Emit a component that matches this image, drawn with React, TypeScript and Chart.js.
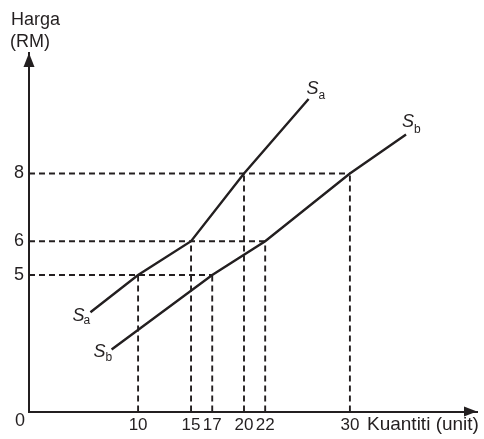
import React, { useEffect, useRef } from "react";
import { Chart, registerables } from "chart.js";

Chart.register(...registerables);

// ---- data ----
const saX = [5.5, 10, 15, 20, 26.1];
const saY = [3.9, 5, 6, 8, 10.2];
const sbX = [7.5, 17, 22, 30, 35.3];
const sbY = [2.8, 5, 6, 8, 9.15];
const guideX = [10, 15, 17, 20, 22, 30];
const guideY = [5, 6, 5, 8, 6, 8];
const xTicks = [10, 15, 17, 20, 22, 30];
const yTicks = [5, 6, 8];
const yTitle = ["Harga", "(RM)"];
const xTitle = "Kuantiti (unit)";
const originLabel = "0";

const X_MIN = -0.3;
const X_MAX = 42;
const Y_MIN = 0.968;
const Y_MAX = 11.56;

const INK = "#231f20";
const FONT = "'Liberation Sans', Arial, sans-serif";

export default function App() {
  const ref = useRef<HTMLCanvasElement | null>(null);

  useEffect(() => {
    document.body.style.margin = "0";
    const canvas = ref.current;
    if (!canvas) return;

    const solid = (xs: number[], ys: number[]) => ({
      data: xs.map((x, i) => ({ x, y: ys[i] })),
      showLine: true,
      borderColor: INK,
      borderWidth: 2.4,
      pointRadius: 0,
      fill: false,
    });

    const dashed = (pts: { x: number; y: number }[]) => ({
      data: pts,
      showLine: true,
      borderColor: INK,
      borderWidth: 1.9,
      borderDash: [6, 4],
      pointRadius: 0,
      fill: false,
    });

    // horizontal guides: one per price level, out to the furthest quantity
    const levels: Record<string, number> = {};
    guideY.forEach((y, i) => {
      const k = String(y);
      levels[k] = Math.max(levels[k] ?? -Infinity, guideX[i]);
    });
    const hGuides = Object.keys(levels).map((k) =>
      dashed([
        { x: X_MIN, y: Number(k) },
        { x: levels[k], y: Number(k) },
      ])
    );
    const vGuides = guideX.map((x, i) =>
      dashed([
        { x, y: Y_MIN },
        { x, y: guideY[i] },
      ])
    );

    const decor = {
      id: "decor",
      afterDraw(chart: any) {
        const { ctx, chartArea, scales } = chart;
        const xs = scales.x;
        const ys = scales.y;
        ctx.save();
        ctx.fillStyle = INK;
        ctx.strokeStyle = INK;
        // arrows
        const left = chartArea.left;
        const bottom = chartArea.bottom;
        ctx.beginPath();
        ctx.moveTo(left, chartArea.top);
        ctx.lineTo(left - 5.5, chartArea.top + 14);
        ctx.lineTo(left + 5.5, chartArea.top + 14);
        ctx.closePath();
        ctx.fill();
        ctx.beginPath();
        ctx.moveTo(chartArea.right, bottom);
        ctx.lineTo(chartArea.right - 13, bottom - 5);
        ctx.lineTo(chartArea.right - 13, bottom + 5);
        ctx.closePath();
        ctx.fill();

        // titles
        ctx.font = `18px ${FONT}`;
        ctx.textAlign = "left";
        ctx.textBaseline = "alphabetic";
        ctx.fillText(yTitle[0], 11, 25);
        ctx.fillText(yTitle[1], 10, 47);
        ctx.fillText(originLabel, 15, 426);
        ctx.font = `19px ${FONT}`;
        ctx.fillText(xTitle, 367, 430);

        // curve labels
        const lab = (sub: string, px: number, py: number, dx: number, dy: number, sdx: number, sdy: number) => {
          ctx.font = `italic 18px ${FONT}`;
          ctx.fillText("S", px + dx, py + dy);
          ctx.font = `12px ${FONT}`;
          ctx.fillText(sub, px + sdx, py + sdy);
        };
        const p = (xv: number, yv: number) => [xs.getPixelForValue(xv), ys.getPixelForValue(yv)];
        let [a, b] = p(saX[saX.length - 1], saY[saY.length - 1]);
        lab("a", a, b, -2, -5, 10, 0);
        [a, b] = p(sbX[sbX.length - 1], sbY[sbY.length - 1]);
        lab("b", a, b, -4, -8, 8, -2);
        [a, b] = p(saX[0], saY[0]);
        lab("a", a, b, -18, 9, -7, 12);
        [a, b] = p(sbX[0], sbY[0]);
        lab("b", a, b, -18, 8, -6, 12);
        ctx.restore();
      },
    };

    const chart = new Chart(canvas, {
      type: "scatter",
      data: {
        datasets: [solid(saX, saY), solid(sbX, sbY), ...hGuides, ...vGuides] as any,
      },
      options: {
        animation: false,
        responsive: false,
        events: [],
        layout: { padding: { top: 53, right: 7, left: 0, bottom: 0 } },
        plugins: {
          legend: { display: false },
          tooltip: { enabled: false },
        },
        scales: {
          x: {
            type: "linear",
            min: X_MIN,
            max: X_MAX,
            grid: { display: false, drawTicks: false },
            border: { display: true, color: INK, width: 2 },
            afterBuildTicks: (s: any) => {
              s.ticks = xTicks.map((v) => ({ value: v }));
            },
            afterFit: (s: any) => {
              s.height = 27.5;
            },
            ticks: {
              color: INK,
              font: { family: FONT, size: 17 },
              padding: 4,
              maxRotation: 0,
              autoSkip: false,
            },
          },
          y: {
            type: "linear",
            min: Y_MIN,
            max: Y_MAX,
            grid: { display: false, drawTicks: false },
            border: { display: true, color: INK, width: 2 },
            afterBuildTicks: (s: any) => {
              s.ticks = yTicks.map((v) => ({ value: v }));
            },
            afterFit: (s: any) => {
              s.width = 29;
            },
            ticks: {
              color: INK,
              font: { family: FONT, size: 18 },
              padding: 5,
              autoSkip: false,
            },
          },
        },
      },
      plugins: [decor],
    } as any);

    return () => chart.destroy();
  }, []);

  return (
    <div style={{ width: 484, height: 439, position: "relative", background: "#fff" }}>
      <canvas ref={ref} width={484} height={439} style={{ display: "block", width: 484, height: 439 }} />
    </div>
  );
}
